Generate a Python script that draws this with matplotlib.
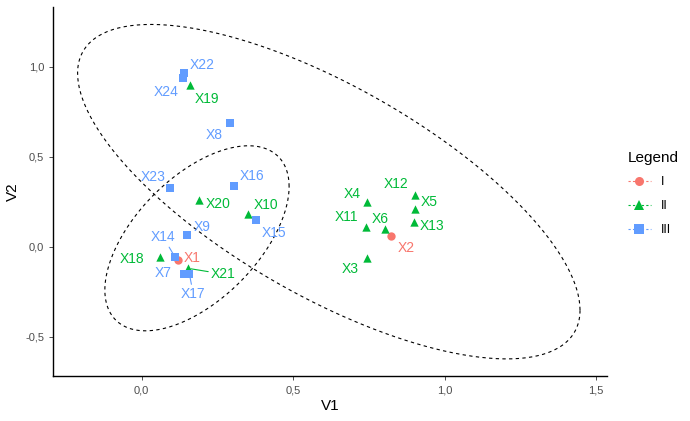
import numpy as np
import matplotlib
matplotlib.use('Agg')
import matplotlib.pyplot as plt
from matplotlib.lines import Line2D
from matplotlib.ticker import FuncFormatter

plt.rcParams['font.family'] = ['Liberation Sans', 'DejaVu Sans']

# points
names = ['X1', 'X2', 'X3', 'X4', 'X5', 'X6', 'X7', 'X8', 'X9', 'X10', 'X11', 'X12',
         'X13', 'X14', 'X15', 'X16', 'X17', 'X18', 'X19', 'X20', 'X21', 'X22', 'X23', 'X24']
v1 = [0.121, 0.823, 0.744, 0.745, 0.903, 0.804, 0.140, 0.293, 0.151, 0.352, 0.740, 0.902,
      0.899, 0.110, 0.378, 0.306, 0.158, 0.061, 0.160, 0.191, 0.154, 0.141, 0.094, 0.137]
v2 = [-0.074, 0.059, -0.061, 0.248, 0.210, 0.097, -0.152, 0.686, 0.065, 0.180, 0.111, 0.289,
      0.137, -0.056, 0.148, 0.336, -0.152, -0.059, 0.900, 0.260, -0.120, 0.963, 0.324, 0.936]
group = ['I', 'I', 'II', 'II', 'II', 'II', 'III', 'III', 'III', 'II', 'II', 'II',
         'II', 'III', 'III', 'III', 'III', 'II', 'II', 'II', 'II', 'III', 'III', 'III']

levels = ['I', 'II', 'III']
colors = {'I': '#F8766D', 'II': '#00BA38', 'III': '#619CFF'}
markers = {'I': 'o', 'II': '^', 'III': 's'}

# label placement (repel-like), label centre in data units
lab_pos = {
    'X1': (0.167, -0.063), 'X2': (0.873, -0.007), 'X3': (0.688, -0.124), 'X4': (0.695, 0.292),
    'X5': (0.949, 0.248), 'X6': (0.787, 0.154), 'X7': (0.072, -0.148), 'X8': (0.240, 0.620),
    'X9': (0.199, 0.111), 'X10': (0.410, 0.232), 'X11': (0.677, 0.167), 'X12': (0.840, 0.348),
    'X13': (0.960, 0.117), 'X14': (0.072, 0.052), 'X15': (0.437, 0.074), 'X16': (0.364, 0.393),
    'X17': (0.171, -0.263), 'X18': (-0.030, -0.070), 'X19': (0.217, 0.822), 'X20': (0.253, 0.237),
    'X21': (0.270, -0.152), 'X22': (0.199, 1.009), 'X23': (0.037, 0.386), 'X24': (0.080, 0.861),
}
with_segment = {'X14', 'X17', 'X21'}

# confidence-ellipse shapes: centre, sd-x, sd-y, correlation
ellipses = [((0.618, 0.306), 0.829, 0.929, -0.708),
            ((0.183, 0.047), 0.304, 0.514, 0.559)]

fig = plt.figure(figsize=(6.9, 4.21), dpi=100)
ax = fig.add_axes([0.0773, 0.1069, 0.8024, 0.8765])

t = np.linspace(0, 2 * np.pi, 300)
for (cx, cy), sx, sy, r in ellipses:
    cov = np.array([[sx * sx, r * sx * sy], [r * sx * sy, sy * sy]])
    L = np.linalg.cholesky(cov)
    pts = L @ np.vstack([np.cos(t), np.sin(t)])
    ax.plot(cx + pts[0], cy + pts[1], color='black', lw=0.8, ls=(0, (3, 3)), zorder=1)

for g in levels:
    idx = [i for i, gg in enumerate(group) if gg == g]
    ax.scatter([v1[i] for i in idx], [v2[i] for i in idx], marker=markers[g],
               color=colors[g], s=36, linewidths=0, zorder=3)

for i, n in enumerate(names):
    c = colors[group[i]]
    lx, ly = lab_pos[n]
    if n in with_segment:
        ax.annotate(n, xy=(v1[i], v2[i]), xytext=(lx, ly), color=c, fontsize=10,
                    ha='center', va='center', zorder=4,
                    arrowprops=dict(arrowstyle='-', color=c, lw=0.8, shrinkA=0, shrinkB=2))
    else:
        ax.text(lx, ly, n, color=c, fontsize=10, ha='center', va='center', zorder=4)

ax.set_xlim(-0.291, 1.536)
ax.set_ylim(-0.718, 1.332)
ax.set_xticks([0.0, 0.5, 1.0, 1.5])
ax.set_yticks([-0.5, 0.0, 0.5, 1.0])
fmt = FuncFormatter(lambda v, p: f'{v:.1f}'.replace('.', ','))
ax.xaxis.set_major_formatter(fmt)
ax.yaxis.set_major_formatter(fmt)
ax.tick_params(labelsize=8, labelcolor='#4D4D4D', color='#333333', length=3, width=0.6)
for s in ['top', 'right']:
    ax.spines[s].set_visible(False)
for s in ['left', 'bottom']:
    ax.spines[s].set_linewidth(1.0)
ax.set_xlabel('V1', fontsize=11, labelpad=3)
ax.set_ylabel('V2', fontsize=11, labelpad=4)

handles = [Line2D([0], [0], color=colors[g], marker=markers[g], ls=(0, (2, 2)), lw=0.8,
                  markersize=6.5, markeredgewidth=0) for g in levels]
leg = fig.legend(handles, levels, title='Legend', loc='upper left',
                 bbox_to_anchor=(0.894, 0.669), frameon=False, fontsize=9,
                 title_fontsize=11, handlelength=1.8, labelspacing=0.95,
                 handletextpad=0.8, alignment='left')

fig.savefig('out.png', dpi=100)
